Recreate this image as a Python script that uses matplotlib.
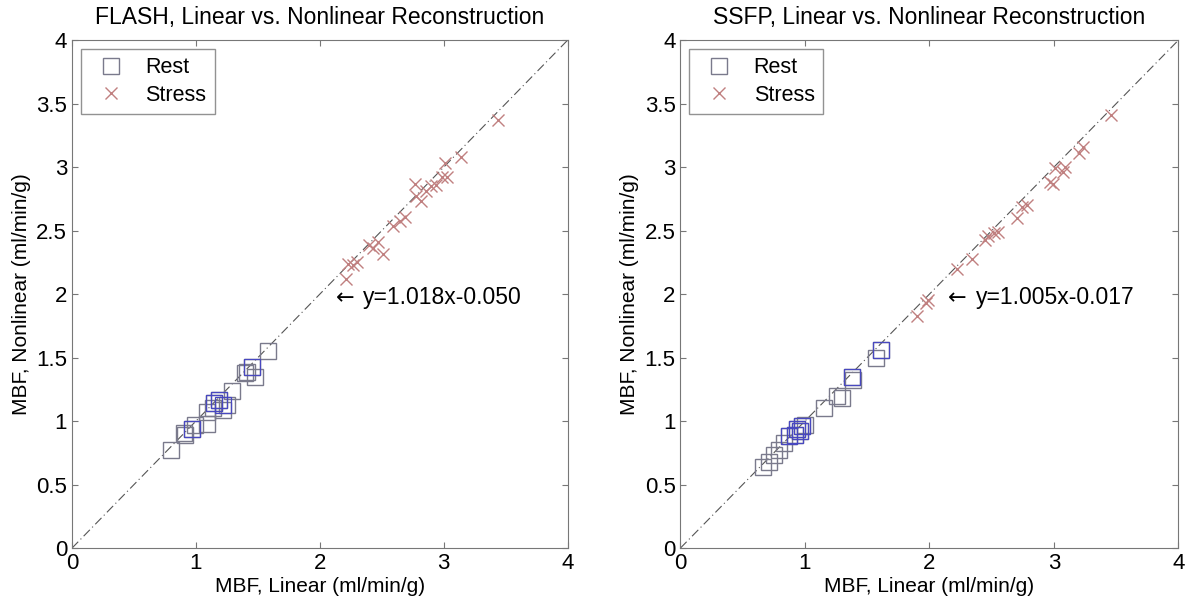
import numpy as np
import matplotlib
matplotlib.use('Agg')
import matplotlib.pyplot as plt

plt.rcParams['font.family'] = ['Liberation Sans', 'DejaVu Sans']

# FLASH panel
flash_rest_x = [0.80, 0.90, 0.91, 0.97, 0.99, 1.09, 1.09, 1.14, 1.15, 1.19, 1.22, 1.25, 1.29, 1.40, 1.41, 1.45, 1.48, 1.58]
flash_rest_y = [0.77, 0.91, 0.89, 0.94, 0.97, 0.98, 1.07, 1.10, 1.14, 1.17, 1.09, 1.13, 1.24, 1.38, 1.39, 1.43, 1.35, 1.55]
flash_rest_blue_x = [0.97, 1.15, 1.19, 1.22, 1.45]
flash_rest_blue_y = [0.94, 1.14, 1.17, 1.13, 1.43]
flash_stress_x = [2.21, 2.23, 2.30, 2.27, 2.40, 2.43, 2.47, 2.51, 2.59, 2.65, 2.69, 2.77, 2.78, 2.82, 2.86, 2.90, 2.94, 2.99, 3.01, 3.03, 3.14, 3.44]
flash_stress_y = [2.12, 2.24, 2.25, 2.23, 2.39, 2.36, 2.41, 2.32, 2.54, 2.58, 2.61, 2.87, 2.77, 2.73, 2.81, 2.85, 2.86, 2.92, 3.03, 2.92, 3.08, 3.37]
flash_fit = 'y=1.018x-0.050'

# SSFP panel
ssfp_rest_x = [0.66, 0.71, 0.75, 0.79, 0.83, 0.87, 0.92, 0.94, 0.96, 0.98, 1.00, 1.15, 1.26, 1.30, 1.38, 1.39, 1.57, 1.61]
ssfp_rest_y = [0.64, 0.68, 0.73, 0.77, 0.83, 0.88, 0.89, 0.94, 0.92, 0.96, 0.97, 1.10, 1.20, 1.18, 1.35, 1.32, 1.50, 1.56]
ssfp_rest_blue_x = [0.87, 0.92, 0.94, 0.96, 0.98, 1.38, 1.61]
ssfp_rest_blue_y = [0.88, 0.89, 0.94, 0.92, 0.96, 1.35, 1.56]
ssfp_stress_x = [1.90, 1.97, 1.99, 2.22, 2.34, 2.45, 2.47, 2.55, 2.52, 2.70, 2.74, 2.78, 2.97, 2.99, 3.01, 3.07, 3.09, 3.20, 3.23, 3.46]
ssfp_stress_y = [1.83, 1.93, 1.95, 2.20, 2.28, 2.43, 2.46, 2.49, 2.48, 2.60, 2.69, 2.70, 2.88, 2.87, 2.99, 2.96, 3.00, 3.11, 3.16, 3.41]
ssfp_fit = 'y=1.005x-0.017'

ticks = [0, 0.5, 1, 1.5, 2, 2.5, 3, 3.5, 4]
tick_labels = ['0', '0.5', '1', '1.5', '2', '2.5', '3', '3.5', '4']

fig = plt.figure(figsize=(12, 6.09), dpi=100)
ax1 = fig.add_axes([0.06, 0.1, 0.413, 0.834])
ax2 = fig.add_axes([0.567, 0.1, 0.415, 0.834])

panels = [
    (ax1, 'FLASH, Linear vs. Nonlinear Reconstruction', flash_rest_x, flash_rest_y,
     flash_rest_blue_x, flash_rest_blue_y, flash_stress_x, flash_stress_y, flash_fit, (2.13, 1.97)),
    (ax2, 'SSFP, Linear vs. Nonlinear Reconstruction', ssfp_rest_x, ssfp_rest_y,
     ssfp_rest_blue_x, ssfp_rest_blue_y, ssfp_stress_x, ssfp_stress_y, ssfp_fit, (2.15, 1.97)),
]

for ax, title, rx, ry, bx, by, sx, sy, fit, pos in panels:
    ax.plot([0, 4], [0, 4], color='#555555', ls=(0, (8, 3, 1, 3)), lw=0.8, zorder=1)
    ax.plot(rx, ry, 's', ms=11, mfc='none', mec='#7a7a8c', mew=1.0, label='Rest', zorder=2)
    ax.plot(bx, by, 's', ms=11, mfc='none', mec='#4848c0', mew=0.9, zorder=3)
    ax.plot(sx, sy, 'x', ms=9, mec='#c08080', mew=1.0, label='Stress', zorder=4)
    ax.text(pos[0], pos[1], '\u2190', fontsize=16, va='center', ha='left',
            family=['DejaVu Sans'])
    ax.text(pos[0] + 0.22, pos[1], fit, fontsize=16.5, va='center', ha='left')
    ax.set_xlim(0, 4)
    ax.set_ylim(0, 4)
    ax.set_xticks([0, 1, 2, 3, 4])
    ax.set_yticks(ticks)
    ax.set_yticklabels(tick_labels)
    ax.tick_params(direction='in', labelsize=16, length=4, color='#777777')
    ax.tick_params(top=True, right=True)
    for sp in ax.spines.values():
        sp.set_color('#777777')
    ax.set_title(title, fontsize=16.5, pad=12)
    ax.set_xlabel('MBF, Linear (ml/min/g)', fontsize=15, labelpad=2)
    ax.set_ylabel('MBF, Nonlinear (ml/min/g)', fontsize=15, labelpad=4)
    leg = ax.legend(loc='upper left', fontsize=15.5, fancybox=False, edgecolor='#777777',
                    borderaxespad=0.4, handletextpad=0.6, borderpad=0.4, labelspacing=0.3)
    leg.get_frame().set_linewidth(1.0)

fig.savefig('out.png', dpi=100)
